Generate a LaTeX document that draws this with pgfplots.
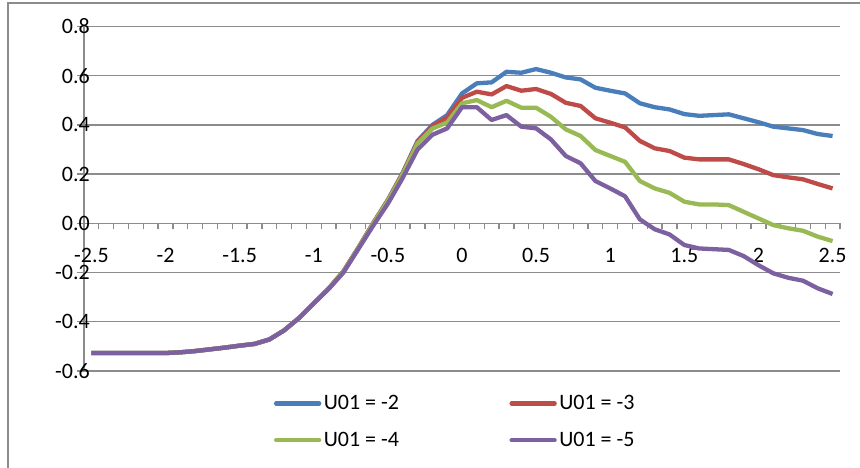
\documentclass[border=0pt]{standalone}
\usepackage{fontspec}
\setmainfont{Carlito}
\usepackage{pgfplots}
\pgfplotsset{compat=1.18}
\usepackage{pgfplotstable}
\definecolor{sblue}{HTML}{4A7EBB}
\definecolor{sred}{HTML}{BE4B48}
\definecolor{sgreen}{HTML}{98B954}
\definecolor{spurple}{HTML}{7D60A0}
\definecolor{gridgray}{HTML}{8C8C8C}
\pgfplotstableread{
x b r g p
-2.5 -0.527 -0.527 -0.527 -0.527
-2.4 -0.527 -0.527 -0.527 -0.527
-2.3 -0.527 -0.527 -0.527 -0.527
-2.2 -0.527 -0.527 -0.527 -0.527
-2.1 -0.527 -0.527 -0.527 -0.527
-2.0 -0.527 -0.527 -0.527 -0.527
-1.9 -0.524 -0.524 -0.524 -0.524
-1.8 -0.519 -0.519 -0.519 -0.519
-1.7 -0.512 -0.512 -0.512 -0.512
-1.6 -0.505 -0.505 -0.505 -0.505
-1.5 -0.497 -0.497 -0.497 -0.497
-1.4 -0.490 -0.490 -0.490 -0.490
-1.3 -0.472 -0.472 -0.472 -0.472
-1.2 -0.435 -0.435 -0.435 -0.435
-1.1 -0.385 -0.385 -0.385 -0.385
-1.0 -0.325 -0.325 -0.325 -0.325
-0.9 -0.265 -0.265 -0.265 -0.267
-0.8 -0.195 -0.195 -0.196 -0.200
-0.7 -0.100 -0.100 -0.101 -0.105
-0.6 0.000 0.000 -0.002 -0.010
-0.5 0.095 0.095 0.092 0.080
-0.4 0.205 0.204 0.200 0.185
-0.3 0.335 0.330 0.325 0.300
-0.2 0.400 0.395 0.385 0.360
-0.1 0.440 0.430 0.410 0.386
0.0 0.528 0.510 0.488 0.472
0.1 0.569 0.535 0.501 0.472
0.2 0.573 0.524 0.472 0.420
0.3 0.616 0.558 0.498 0.440
0.4 0.612 0.539 0.470 0.393
0.5 0.627 0.546 0.470 0.386
0.6 0.612 0.526 0.433 0.341
0.7 0.593 0.490 0.382 0.274
0.8 0.585 0.477 0.355 0.244
0.9 0.551 0.427 0.298 0.172
1.0 0.539 0.409 0.274 0.142
1.1 0.528 0.390 0.250 0.110
1.2 0.488 0.335 0.172 0.016
1.3 0.472 0.305 0.142 -0.024
1.4 0.463 0.294 0.124 -0.045
1.5 0.444 0.267 0.088 -0.088
1.6 0.437 0.260 0.077 -0.102
1.7 0.440 0.260 0.077 -0.105
1.8 0.443 0.260 0.074 -0.108
1.9 0.427 0.241 0.047 -0.133
2.0 0.411 0.220 0.020 -0.170
2.1 0.393 0.196 -0.007 -0.203
2.2 0.386 0.187 -0.020 -0.221
2.3 0.379 0.179 -0.030 -0.233
2.4 0.363 0.160 -0.054 -0.264
2.5 0.355 0.142 -0.072 -0.287
}\data
\begin{document}
\begin{tikzpicture}
\path[use as bounding box] (0,0) rectangle (860bp,468bp);
\draw[gridgray, line width=1.2bp] (8bp,0) -- (8bp,465bp) -- (860bp,465bp);
\begin{axis}[
  at={(84bp,97bp)}, anchor=south west,
  scale only axis, width=756bp, height=344.5bp,
  xmin=-2.55, xmax=2.55, ymin=-0.6, ymax=0.8,
  axis x line=middle, axis y line=left,
  axis line style={-, gridgray, line width=1.3bp},
  xtick={-2.5,-2,-1.5,-1,-0.5,0,0.5,1,1.5,2,2.5},
  xticklabels={-2.5,-2,-1.5,-1,-0.5,0,0.5,1,1.5,2,2.5},
  minor xtick={-2.45,-2.35,-2.25,-2.15,-2.05,-1.95,-1.85,-1.75,-1.65,-1.55,-1.45,-1.35,-1.25,-1.15,-1.05,-0.95,-0.85,-0.75,-0.65,-0.55,-0.45,-0.35,-0.25,-0.15,-0.05,0.05,0.15,0.25,0.35,0.45,0.55,0.65,0.75,0.85,0.95,1.05,1.15,1.25,1.35,1.45,1.55,1.65,1.75,1.85,1.95,2.05,2.15,2.25,2.35,2.45,2.55},
  major x tick style={draw=none},
  ytick={-0.6,-0.4,-0.2,0,0.2,0.4,0.6,0.8},
  yticklabels={-0.6,-0.4,-0.2,0.0,0.2,0.4,0.6,0.8},
  ymajorgrids, grid style={gridgray, line width=1.3bp},
  tick align=outside,
  major tick length=7bp, minor tick length=6bp,
  tick style={gridgray, line width=1.3bp},
  every tick label/.append style={font=\fontsize{22bp}{26bp}\selectfont, text=black},
  xticklabel style={anchor=north, inner sep=0pt, yshift=-18bp},
  yticklabel style={anchor=east, inner sep=0pt, xshift=13bp},
  clip=false,
  legend columns=2,
  legend image code/.code={\draw[#1, line cap=round] (0bp,0bp) -- (43bp,0bp);},
  legend style={draw=none, fill=none, inner sep=0pt, outer sep=0pt,
    at={(axis description cs:0.2513,-0.064)}, anchor=north west,
    font=\fontsize{22bp}{26bp}\selectfont, row sep=16bp,
    nodes={inner sep=2.5bp},
    /tikz/every even column/.append style={column sep=108bp}},
]
\addplot[sblue, line width=4.3bp, line join=round] table[x=x,y=b]{\data};
\addplot[sred, line width=4.3bp, line join=round] table[x=x,y=r]{\data};
\addplot[sgreen, line width=4.3bp, line join=round] table[x=x,y=g]{\data};
\addplot[spurple, line width=4.3bp, line join=round] table[x=x,y=p]{\data};
\legend{U01 = -2, U01 = -3, U01 = -4, U01 = -5}
\end{axis}
\end{tikzpicture}
\end{document}
